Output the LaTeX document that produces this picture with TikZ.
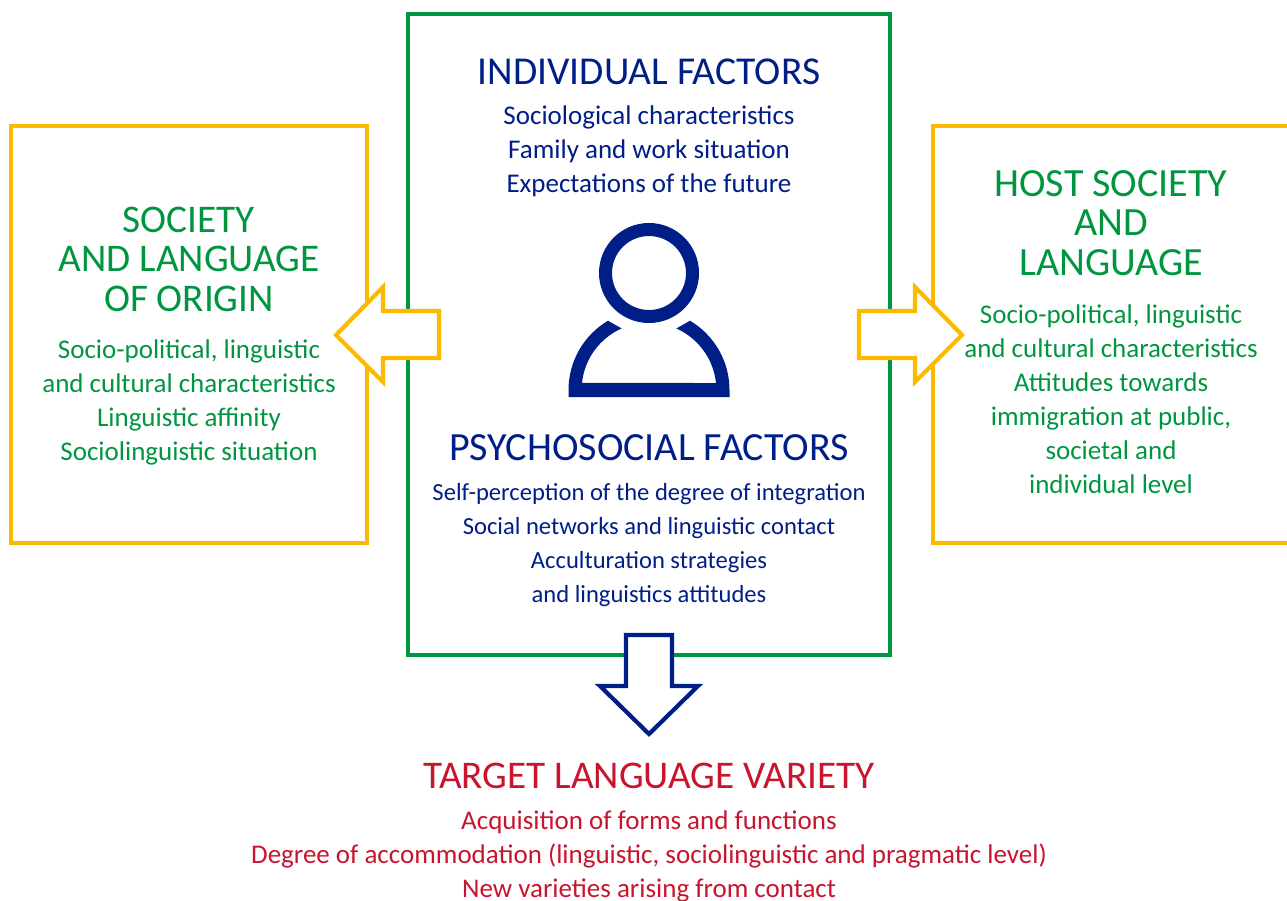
\documentclass[tikz,border=0pt]{standalone}
\usepackage{fontspec}
\setmainfont{Carlito}
\definecolor{grn}{RGB}{0,150,64}
\definecolor{ylw}{RGB}{253,185,0}
\definecolor{nvy}{RGB}{0,30,135}
\definecolor{rd}{RGB}{200,20,45}
\tikzset{
  x=1pt,y=-1pt,
  framebox/.style={draw,line width=4.4pt,rectangle,inner sep=0pt,outer sep=0pt,fill=white},
  head/.style={align=center,inner sep=0pt,font=\fontsize{39.5}{39.5}\selectfont},
  widehead/.style={align=center,inner sep=0pt,font=\fontsize{40}{39.5}\selectfont},
  narrowhead/.style={align=center,inner sep=0pt,font=\fontsize{39.2}{39.5}\selectfont},
  body/.style={align=center,inner sep=0pt,font=\fontsize{27}{34}\selectfont},
  smallbody/.style={align=center,inner sep=0pt,font=\fontsize{24.6}{34}\selectfont},
  blockarrow/.style={draw,fill=white,line width=4.2pt,miter limit=10},
}
\begin{document}
\begin{tikzpicture}
\useasboundingbox (0,0) rectangle (1287,900);
\begin{scope}
\clip (0,0) rectangle (1287,900);
\node[framebox,draw=grn,minimum width=482pt,minimum height=641pt] (centre) at (649,334.5) {};
\node[framebox,draw=ylw,minimum width=356pt,minimum height=417pt] (origin) at (189,334.5) {};
\node[framebox,draw=ylw,minimum width=380pt,minimum height=417pt] (host) at (1123,334.5) {};
\end{scope}
% block arrows
\draw[blockarrow,draw=ylw] (439,311) -- (383,311) -- (383,287) -- (336,335) -- (383,382) -- (383,358) -- (439,358) -- cycle;
\draw[blockarrow,draw=ylw] (859,311) -- (915,311) -- (915,287) -- (962,335) -- (915,382) -- (915,358) -- (859,358) -- cycle;
\draw[blockarrow,draw=nvy] (626,635) -- (672,635) -- (672,686) -- (698,686) -- (649,734) -- (600,686) -- (626,686) -- cycle;
% person
\node[circle,draw=nvy,line width=13pt,minimum size=87pt,inner sep=0pt,outer sep=0pt] (headicon) at (649,273) {};
\begin{scope}[shift={(649,390)},y=1pt]
\fill[nvy] (-80.5,-7) -- (-80.5,0) arc[start angle=180,end angle=120.6,radius=80.5pt]
  -- (114:67.4pt) arc[start angle=114,end angle=174,radius=67.4pt]
  -- (67,7) arc[start angle=6,end angle=66,radius=67.4pt]
  -- (59.4:80.5pt) arc[start angle=59.4,end angle=0,radius=80.5pt]
  -- (80.5,-7) -- cycle;
\end{scope}
% texts
\node[head,text=nvy] (indh) at (649,72) {INDIVIDUAL FACTORS};
\node[body,text=nvy] (indb) at (649,151) {Sociological characteristics\\Family and work situation\\Expectations of the future};
\node[widehead,text=nvy] (psyh) at (649,448) {PSYCHOSOCIAL FACTORS};
\node[smallbody,text=nvy] (psyb) at (649,545) {Self-perception of the degree of integration\\Social networks and linguistic contact\\Acculturation strategies\\and linguistics attitudes};
\node[narrowhead,text=grn] (orih) at (189,259) {SOCIETY\\AND LANGUAGE\\OF ORIGIN};
\node[body,text=grn] (orib) at (189,402) {Socio-political, linguistic\\and cultural characteristics\\Linguistic affinity\\Sociolinguistic situation};
\node[widehead,text=grn] (hosth) at (1111,223) {HOST SOCIETY\\AND\\LANGUAGE};
\node[body,text=grn] (hostb) at (1111,399) {Socio-political, linguistic\\and cultural characteristics\\Attitudes towards\\immigration at public,\\societal and\\individual level};
\node[narrowhead,text=rd] (tarh) at (649,776) {TARGET LANGUAGE VARIETY};
\node[body,text=rd] (tarb) at (649,856) {Acquisition of forms and functions\\Degree of accommodation (linguistic, sociolinguistic and pragmatic level)\\New varieties arising from contact};
\end{tikzpicture}
\end{document}
